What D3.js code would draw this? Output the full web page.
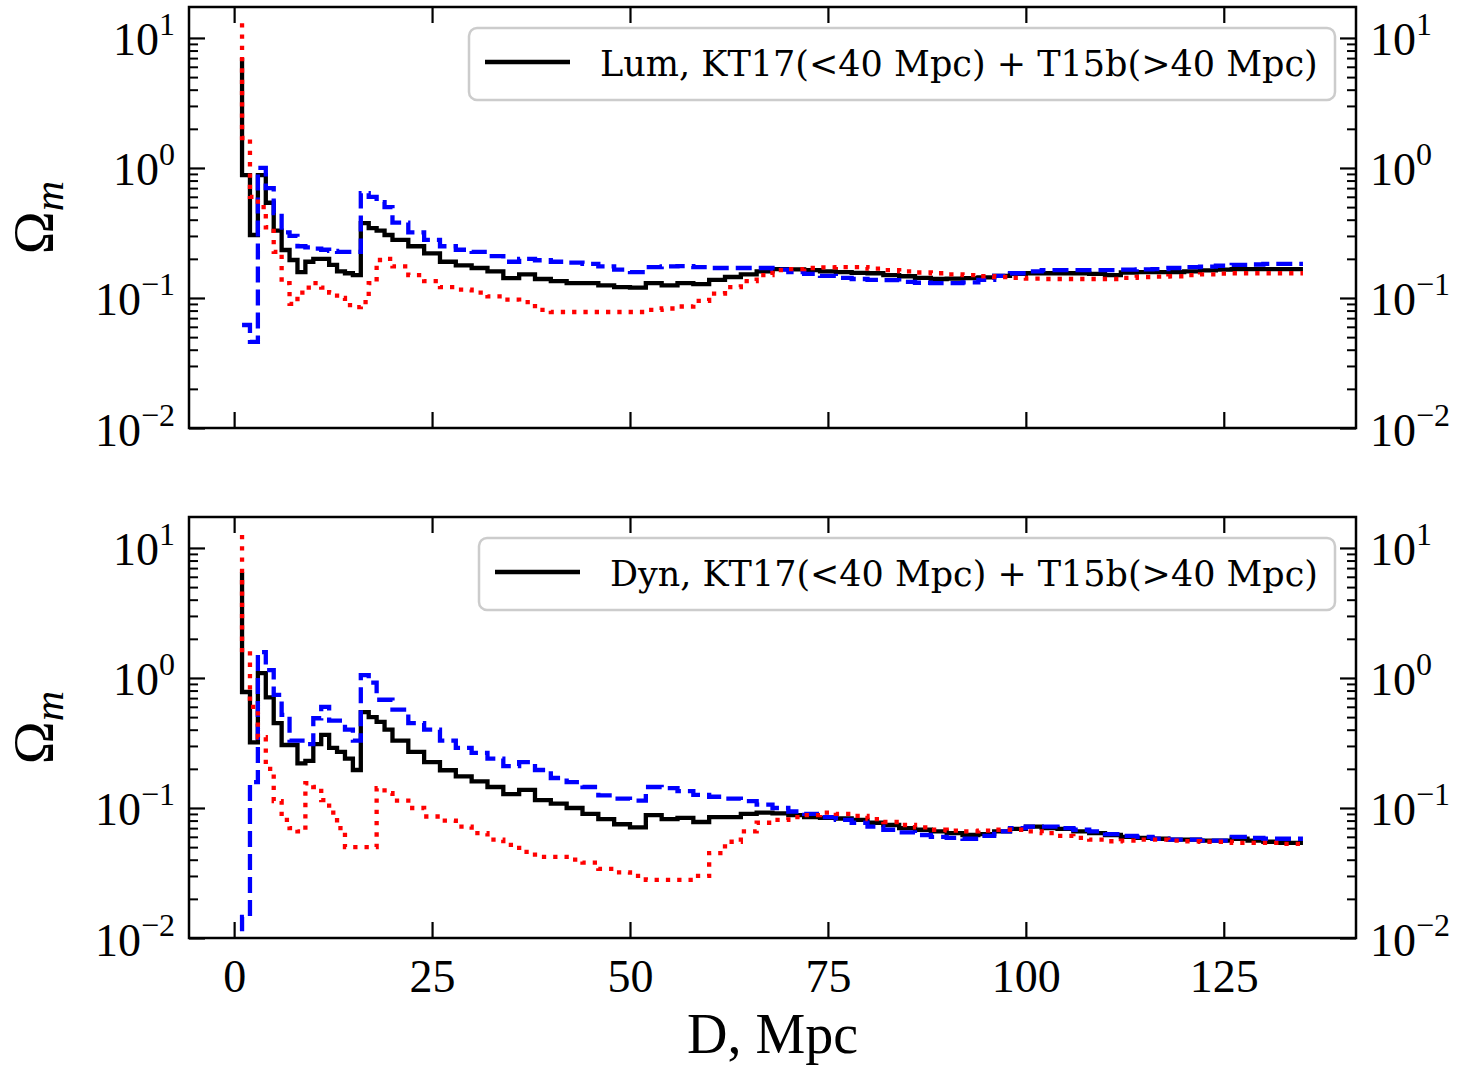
<!DOCTYPE html>
<html>
<head>
<meta charset="utf-8">
<script src="https://cdn.jsdelivr.net/npm/d3@7"></script>
<style>
  body { margin: 0; background: #fff; }
</style>
</head>
<body>
<svg width="1470" height="1067"></svg>
<script>
// distance grid, Mpc (right edge of each step)
var distMpc = [1, 2, 3, 4, 5, 6, 7, 8, 9, 10,
  11, 12, 13, 14, 15, 16, 17, 18, 19, 20,
  22, 24, 26, 28, 30, 32, 34, 36, 38, 40,
  42, 44, 46, 48, 50, 52, 54, 56, 58, 60,
  62, 64, 66, 68, 70, 72, 74, 76, 78, 80,
  82, 84, 86, 88, 90, 92, 94, 96, 98, 100,
  102, 104, 106, 108, 110, 112, 114, 116, 118, 120,
  122, 124, 126, 128, 130, 132, 134, 135];

// top panel: luminous
var lumBlack = [7.0, 0.88, 0.305, 0.88, 0.54, 0.33, 0.234, 0.196, 0.158, 0.19,
  0.2, 0.2, 0.18, 0.16, 0.155, 0.15, 0.377, 0.345, 0.33, 0.305,
  0.28, 0.25, 0.22, 0.19, 0.178, 0.17, 0.16, 0.142, 0.152, 0.14,
  0.135, 0.13, 0.13, 0.125, 0.121, 0.12, 0.13, 0.125, 0.13, 0.128,
  0.138, 0.145, 0.152, 0.16, 0.167, 0.166, 0.164, 0.16, 0.158, 0.156,
  0.155, 0.15, 0.147, 0.143, 0.14, 0.141, 0.142, 0.144, 0.148, 0.153,
  0.155, 0.155, 0.155, 0.155, 0.153, 0.15, 0.157, 0.158, 0.158, 0.158,
  0.16, 0.163, 0.165, 0.167, 0.167, 0.167, 0.167, 0.167];
var lumBlue = [0.062, 0.062, 0.046, 1.0, 0.70, 0.45, 0.32, 0.30, 0.25, 0.245,
  0.24, 0.235, 0.23, 0.226, 0.226, 0.226, 0.64, 0.6, 0.547, 0.5,
  0.38, 0.32, 0.28, 0.25, 0.235, 0.226, 0.21, 0.19, 0.2, 0.195,
  0.19, 0.187, 0.183, 0.175, 0.165, 0.158, 0.173, 0.175, 0.176, 0.173,
  0.17, 0.17, 0.17, 0.17, 0.165, 0.158, 0.153, 0.148, 0.143, 0.14,
  0.138, 0.137, 0.133, 0.131, 0.13, 0.13, 0.132, 0.138, 0.148, 0.155,
  0.16, 0.164, 0.164, 0.164, 0.164, 0.164, 0.165, 0.166, 0.167, 0.17,
  0.173, 0.174, 0.177, 0.18, 0.181, 0.183, 0.183, 0.183];
var lumRed = [13.0, 1.7, 0.6, 0.5, 0.35, 0.226, 0.13, 0.09, 0.11, 0.12,
  0.13, 0.12, 0.11, 0.1, 0.088, 0.085, 0.093, 0.13, 0.196, 0.2,
  0.175, 0.15, 0.135, 0.121, 0.116, 0.11, 0.103, 0.097, 0.093, 0.081,
  0.078, 0.078, 0.078, 0.078, 0.078, 0.078, 0.081, 0.083, 0.086, 0.095,
  0.108, 0.121, 0.135, 0.15, 0.164, 0.167, 0.17, 0.172, 0.173, 0.173,
  0.168, 0.164, 0.16, 0.157, 0.155, 0.152, 0.15, 0.147, 0.145, 0.143,
  0.141, 0.14, 0.14, 0.14, 0.14, 0.14, 0.143, 0.145, 0.146, 0.147,
  0.15, 0.152, 0.154, 0.155, 0.155, 0.155, 0.155, 0.155];

// bottom panel: dynamical
var dynBlack = [6.5, 0.78, 0.32, 1.09, 0.71, 0.45, 0.305, 0.305, 0.22, 0.23,
  0.31, 0.365, 0.29, 0.27, 0.24, 0.196, 0.547, 0.5, 0.46, 0.4,
  0.33, 0.27, 0.225, 0.195, 0.175, 0.16, 0.145, 0.128, 0.138, 0.115,
  0.108, 0.1, 0.09, 0.082, 0.075, 0.071, 0.088, 0.082, 0.084, 0.078,
  0.085, 0.085, 0.09, 0.092, 0.091, 0.088, 0.085, 0.084, 0.083, 0.081,
  0.077, 0.074, 0.07, 0.068, 0.066, 0.064, 0.062, 0.063, 0.066, 0.069,
  0.072, 0.07, 0.069, 0.066, 0.064, 0.062, 0.06, 0.059, 0.058, 0.057,
  0.057, 0.056, 0.056, 0.058, 0.056, 0.055, 0.054, 0.054];
var dynBlue = [0.005, 0.0145, 0.158, 1.58, 1.15, 0.74, 0.52, 0.33, 0.33, 0.31,
  0.49, 0.6, 0.47, 0.47, 0.4, 0.33, 1.05, 0.92, 0.68, 0.68,
  0.57, 0.45, 0.4, 0.33, 0.29, 0.265, 0.24, 0.21, 0.225, 0.196,
  0.17, 0.158, 0.145, 0.125, 0.118, 0.114, 0.145, 0.142, 0.135, 0.126,
  0.122, 0.118, 0.113, 0.106, 0.1, 0.094, 0.09, 0.085, 0.081, 0.077,
  0.072, 0.068, 0.065, 0.062, 0.06, 0.059, 0.058, 0.061, 0.066, 0.07,
  0.072, 0.072, 0.07, 0.068, 0.066, 0.063, 0.061, 0.06, 0.058, 0.057,
  0.057, 0.056, 0.056, 0.06, 0.059, 0.058, 0.058, 0.058];
var dynRed = [12.6, 1.64, 0.6, 0.35, 0.2, 0.113, 0.081, 0.07, 0.066, 0.155,
  0.145, 0.115, 0.092, 0.07, 0.05, 0.05, 0.05, 0.05, 0.142, 0.13,
  0.114, 0.1, 0.086, 0.08, 0.072, 0.064, 0.057, 0.052, 0.046, 0.042,
  0.042, 0.04, 0.038, 0.034, 0.032, 0.03, 0.028, 0.028, 0.028, 0.03,
  0.045, 0.055, 0.066, 0.077, 0.081, 0.085, 0.088, 0.092, 0.09, 0.087,
  0.082, 0.078, 0.074, 0.071, 0.068, 0.067, 0.066, 0.067, 0.068, 0.068,
  0.066, 0.064, 0.061, 0.059, 0.057, 0.0555, 0.056, 0.057, 0.057, 0.056,
  0.0555, 0.055, 0.055, 0.054, 0.054, 0.054, 0.053, 0.053];

var legendLabels = ["Lum, KT17(<40 Mpc) + T15b(>40 Mpc)", "Dyn, KT17(<40 Mpc) + T15b(>40 Mpc)"];
var xTicks = [0, 25, 50, 75, 100, 125];
var yExponents = [-2, -1, 0, 1];

var svg = d3.select("svg"),
    margin = {left: 189, right: 114},
    width = 1470 - margin.left - margin.right,
    height = 421;

var panels = [
  {top: 7, black: lumBlack, blue: lumBlue, red: lumRed, label: legendLabels[0], legendX: 280, xLabels: false},
  {top: 517, black: dynBlack, blue: dynBlue, red: dynRed, label: legendLabels[1], legendX: 290, xLabels: true}
];

var x = d3.scaleLinear().domain([-5.7, 141.7]).range([0, width]);
var y = d3.scaleLog().domain([0.01, 17.3]).range([height, 0]);

var majorY = yExponents.map(function(e) { return Math.pow(10, e); });
var minorY = [];
yExponents.forEach(function(e) {
  for (var m = 2; m <= 9; m++) {
    var v = m * Math.pow(10, e);
    if (v < 17.3) minorY.push(v);
  }
});

var tickFont = "'Liberation Serif', 'DejaVu Serif', serif";
var textFont = "'DejaVu Serif', Georgia, serif";
var lw = 4.3;

var supMinus = function(e) { return e < 0 ? "\u2212" + (-e) : "" + e; };

function decadeLabels(sel) {
  sel.selectAll(".tick text").each(function(d) {
    var t = d3.select(this).text("").attr("dy", null).attr("y", 17)
      .attr("font-family", tickFont).attr("font-size", 46).attr("fill", "#000");
    t.append("tspan").text("10");
    t.append("tspan").attr("dy", -20).attr("font-size", 32).text(supMinus(Math.round(Math.log10(d))));
  });
}

function styleTicks(sel, w) {
  sel.select(".domain").remove();
  sel.selectAll(".tick line").attr("stroke", "#000").attr("stroke-width", w);
}

panels.forEach(function(p, i) {
  var g = svg.append("g").attr("transform", "translate(" + margin.left + "," + p.top + ")");

  g.append("clipPath").attr("id", "clip" + i)
    .append("rect").attr("width", width).attr("height", height);

  // y axes, ticks pointing inward
  g.append("g").call(d3.axisLeft(y).tickValues(minorY).tickSize(-9).tickFormat(""))
    .call(styleTicks, 2);
  g.append("g").call(d3.axisLeft(y).tickValues(majorY).tickSize(-16).tickPadding(14))
    .call(styleTicks, 2.2).call(decadeLabels);
  g.append("g").attr("transform", "translate(" + width + ",0)")
    .call(d3.axisRight(y).tickValues(minorY).tickSize(-9).tickFormat(""))
    .call(styleTicks, 2);
  g.append("g").attr("transform", "translate(" + width + ",0)")
    .call(d3.axisRight(y).tickValues(majorY).tickSize(-16).tickPadding(14))
    .call(styleTicks, 2.2).call(decadeLabels);

  // x axes
  var bottom = g.append("g").attr("transform", "translate(0," + height + ")")
    .call(d3.axisBottom(x).tickValues(xTicks).tickSize(-16).tickFormat(p.xLabels ? d3.format("d") : ""))
    .call(styleTicks, 2.2);
  bottom.selectAll(".tick text").attr("dy", null).attr("y", 54)
    .attr("font-family", tickFont).attr("font-size", 46).attr("fill", "#000");
  g.append("g").call(d3.axisTop(x).tickValues(xTicks).tickSize(-16).tickFormat(""))
    .call(styleTicks, 2.2);

  // step lines
  var line = function(vals) {
    return d3.line()
      .x(function(d, j) { return x(distMpc[j]); })
      .y(function(d) { return y(d); })
      .curve(d3.curveStepBefore)(vals);
  };
  var lines = g.append("g").attr("clip-path", "url(#clip" + i + ")");
  lines.append("path").attr("d", line(p.black))
    .attr("fill", "none").attr("stroke", "#000").attr("stroke-width", lw);
  lines.append("path").attr("d", line(p.blue))
    .attr("fill", "none").attr("stroke", "#0000ff").attr("stroke-width", lw)
    .attr("stroke-dasharray", "16,7");
  lines.append("path").attr("d", line(p.red))
    .attr("fill", "none").attr("stroke", "#ff0000").attr("stroke-width", lw)
    .attr("stroke-dasharray", "4.3,7");

  // frame
  g.append("rect").attr("width", width).attr("height", height)
    .attr("fill", "none").attr("stroke", "#000").attr("stroke-width", 2.5);

  // legend
  var lg = g.append("g").attr("transform", "translate(" + p.legendX + ",21)");
  var boxW = 1146 - p.legendX;
  lg.append("rect").attr("width", boxW).attr("height", 72).attr("rx", 8)
    .attr("fill", "#fff").attr("fill-opacity", 0.8)
    .attr("stroke", "#cccccc").attr("stroke-width", 2.5);
  lg.append("line").attr("x1", 16).attr("x2", 101).attr("y1", 34).attr("y2", 34)
    .attr("stroke", "#000").attr("stroke-width", lw);
  var txt = lg.append("text").attr("x", 131).attr("y", 48)
    .attr("font-family", textFont).attr("font-size", 40).attr("fill", "#000")
    .text(p.label);
  var target = boxW - 131 - 17;
  var len = txt.node().getComputedTextLength();
  txt.attr("font-size", 40 * target / len);

  // y label
  var yl = g.append("text")
    .attr("transform", "translate(" + (53 - margin.left) + "," + (height / 2) + ") rotate(-90)")
    .attr("text-anchor", "middle")
    .attr("font-family", tickFont).attr("font-size", 58).attr("fill", "#000");
  yl.append("tspan").text("\u03A9");
  yl.append("tspan").attr("font-style", "italic").attr("font-size", 42).attr("dy", 10).text("m");
});

// x label
svg.append("text")
  .attr("x", margin.left + width / 2).attr("y", 1053)
  .attr("text-anchor", "middle")
  .attr("font-family", tickFont).attr("font-size", 56).attr("fill", "#000")
  .text("D, Mpc");
</script>
</body>
</html>
